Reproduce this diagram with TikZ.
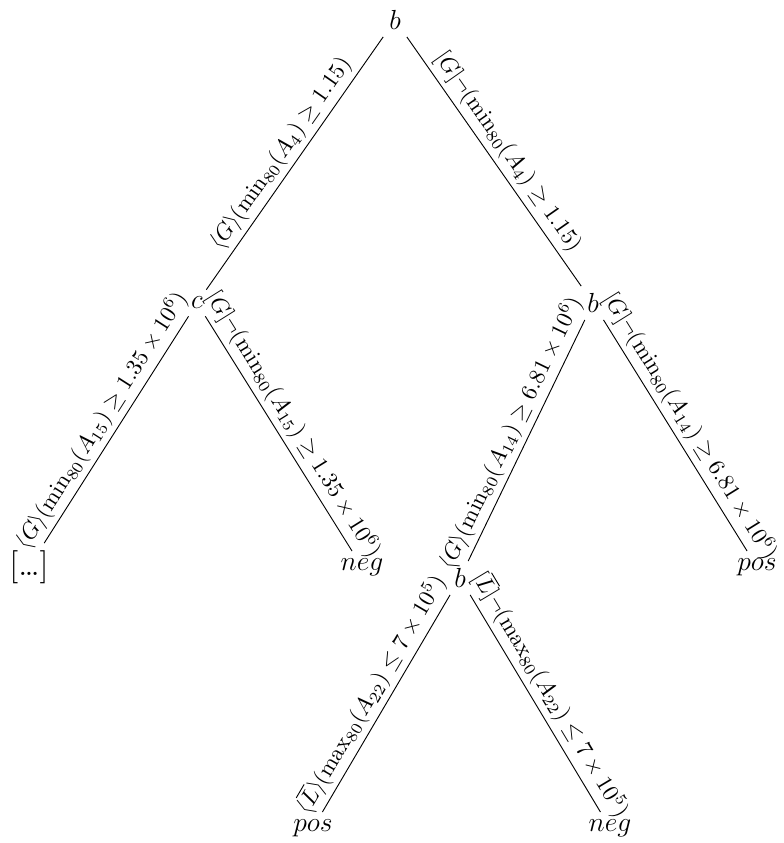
\documentclass[tikz,border=0pt]{standalone}
\usepackage{amsmath,amssymb}
\usepackage{tikz}

\tikzset{
  tnode/.style={font=\large,inner sep=3pt},
  rule/.style={midway,above,sloped,inner sep=2pt},
}

\begin{document}
\begin{tikzpicture}[x=0.435pt,y=-0.435pt]
\useasboundingbox (0,0) rectangle (783,843);

% nodes of the tree
\node[tnode] (root) at (395,20) {$b$};
\node[tnode] (c) at (197,303) {$c$};
\node[tnode] (b1) at (593,303) {$b$};
\node[tnode,font=\Large] (dots) at (29,567) {[\ldots]};
\node[tnode] (neg1) at (362,567) {$neg$};
\node[tnode] (b2) at (460,578) {$b$};
\node[tnode] (pos1) at (757,567) {$pos$};
\node[tnode] (pos2) at (313,828) {$pos$};
\node[tnode] (neg2) at (610,828) {$neg$};

% edges with their rules
\draw (root) -- (c) node[rule] {$\langle G\rangle(\min_{80}(A_4)\geq 1.15)$};
\draw (root) -- (b1) node[rule] {$[G]\neg(\min_{80}(A_4)\geq 1.15)$};
\draw (c) -- (dots) node[rule] {$\langle G\rangle(\min_{80}(A_{15})\geq 1.35\times 10^6)$};
\draw (c) -- (neg1) node[rule] {$[G]\neg(\min_{80}(A_{15})\geq 1.35\times 10^6)$};
\draw (b1) -- (b2) node[rule] {$\langle G\rangle(\min_{80}(A_{14})\geq 6.81\times 10^6)$};
\draw (b1) -- (pos1) node[rule] {$[G]\neg(\min_{80}(A_{14})\geq 6.81\times 10^6)$};
\draw (b2) -- (pos2) node[rule] {$\langle\overline{L}\rangle(\max_{80}(A_{22})\leq 7\times 10^5)$};
\draw (b2) -- (neg2) node[rule] {$[\overline{L}]\neg(\max_{80}(A_{22})\leq 7\times 10^5)$};
\end{tikzpicture}
\end{document}
